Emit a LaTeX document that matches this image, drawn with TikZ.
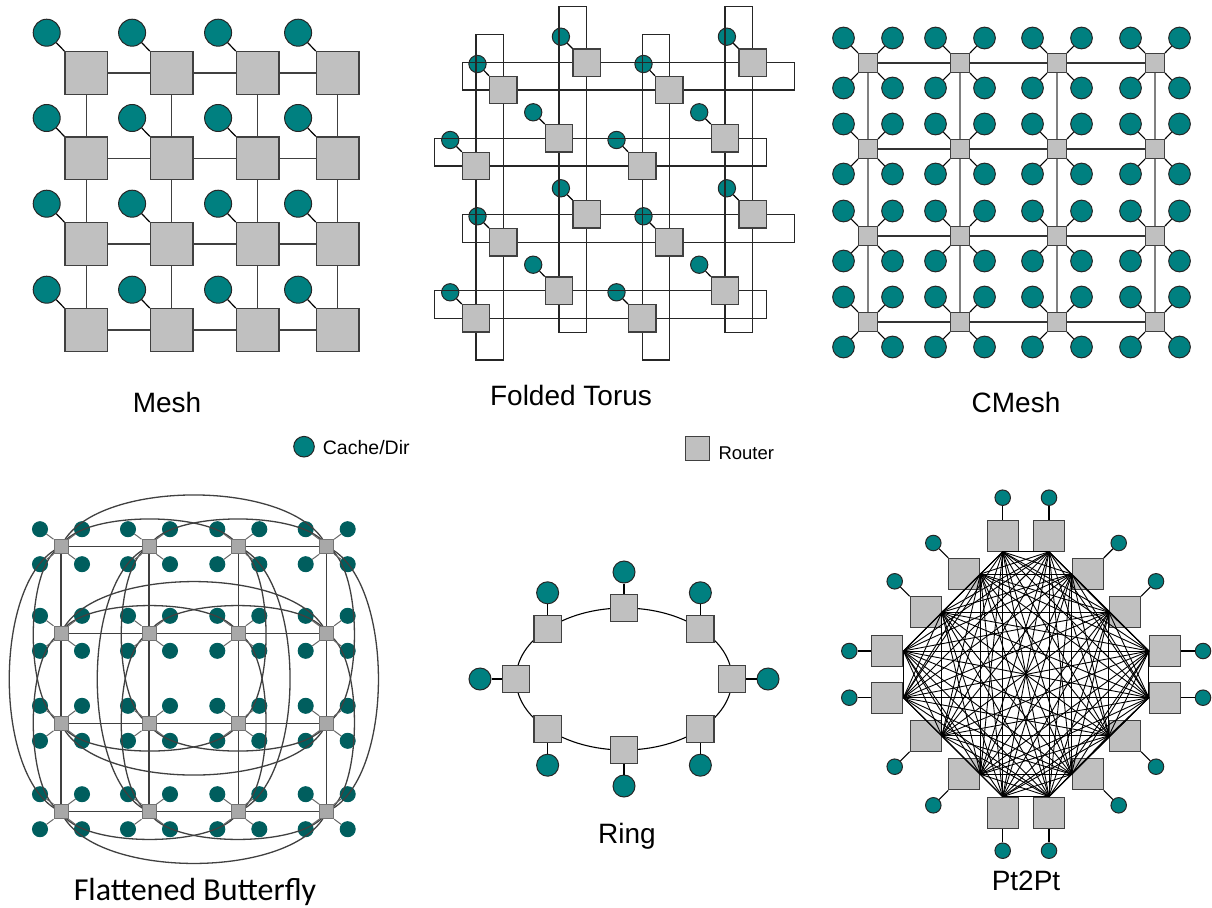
\documentclass[tikz,border=0pt]{standalone}
\usepackage{fontspec}
\setmainfont{Liberation Sans}
\newfontfamily\calibrifont{Carlito}
\definecolor{cachecol}{RGB}{0,128,128}
\definecolor{routercol}{RGB}{192,192,192}
\definecolor{fbcache}{RGB}{0,94,94}
\definecolor{fbrouter}{RGB}{168,168,168}
\definecolor{linkcol}{RGB}{64,64,64}
\pgfdeclarelayer{bottom}
\pgfdeclarelayer{links}
\pgfsetlayers{bottom,links,main}
\tikzset{
  cache/.style={circle, draw=black!85, line width=1pt, fill=cachecol, minimum size=#1, inner sep=0pt},
  cache/.default=27,
  router/.style={rectangle, draw=black!75, line width=1.2pt, fill=routercol, minimum size=#1, inner sep=0pt},
  router/.default=42,
  link/.style={draw=linkcol, line width=1.4pt},
  fblink/.style={draw=black!75, line width=1.3pt},
  plink/.style={draw=black, line width=0.9pt},
  title/.style={font=\fontsize{28}{30}\selectfont, anchor=base, inner sep=0pt},
  keytext/.style={anchor=base west, inner sep=0pt},
}
\begin{document}
\begin{tikzpicture}[x=1pt,y=-1pt]
    \useasboundingbox (0,0) rectangle (1212,907);

    % --- Mesh (top left) ---
    \foreach \x [count=\i] in {86.3,171.7,257.7,337.7} {
        \foreach \y [count=\j] in {73,158.3,244,330} {
            \node[cache=27] (MC\i\j) at (\x-39.6,\y-40.3) {};
            \node[router=42.7] (M\i\j) at (\x,\y) {};
            \draw[line width=1.2pt] (MC\i\j) -- (M\i\j.north west);
        }
    }
    \foreach \i in {1,2,3} {
        \pgfmathtruncatemacro\k{\i+1}
        \foreach \j in {1,...,4} {
            \draw[link] (M\i\j) -- (M\k\j);
            \draw[link] (M\j\i) -- (M\j\k);
        }
    }
    \node[title] (mesh) at (167,412) {Mesh};

    % --- Folded Torus (top middle) ---
    \foreach \x/\y [count=\n] in {586.7/62.7, 752.7/62.7, 503.3/90, 669.3/90,
        559/138.3, 725/138.3, 476/166, 642.3/166, 586.7/214.3, 752.7/214.3,
        503.3/242.3, 669.3/242.3, 559/290.7, 725/290.7, 476/318.3, 642.3/318.3} {
        \begin{pgfonlayer}{bottom}
            \node[cache=17.3] (TC\n) at (\x-25.8,\y-26) {};
        \end{pgfonlayer}
        \node[router=27.3] (T\n) at (\x,\y) {};
        \draw[line width=1.2pt] (TC\n) -- (T\n.north west);
    }
    % wrap-around loops
    \begin{pgfonlayer}{links}
        \foreach \xa/\ya/\xb/\yb in {462.3/62.7/794.3/90, 434.3/138.3/766.7/166,
            462.3/214.3/794.3/242.3, 434.3/290.7/766.7/318.3,
            559/6.7/586.7/332.3, 476/34.3/503.3/360,
            642.3/34.3/669.3/360, 725/6.7/752.7/332.3} {
            \draw[draw=black!85, line width=1.4pt] (\xa,\ya) rectangle (\xb,\yb);
        }
    \end{pgfonlayer}
    \node[title] (torus) at (571,405) {Folded Torus};

    % --- CMesh (top right) ---
    \foreach \x [count=\i] in {868,960,1057,1155} {
        \foreach \y [count=\j] in {63,149,236,322} {
            \node[router=19] (C\i\j) at (\x,\y) {};
            \foreach \dx/\dy/\an [count=\k] in {-24.5/-25/north west, 24.5/-25/north east,
                -24.5/25/south west, 24.5/25/south east} {
                \node[cache=21.7] (CC\i\j\k) at (\x+\dx,\y+\dy) {};
                \draw[line width=1.1pt] (CC\i\j\k) -- (C\i\j.\an);
            }
        }
    }
    \foreach \i in {1,2,3} {
        \pgfmathtruncatemacro\k{\i+1}
        \foreach \j in {1,...,4} {
            \draw[draw=black!80, line width=1.1pt] (C\i\j) -- (C\k\j);
            \draw[draw=black!50, line width=1.3pt] (C\j\i) -- (C\j\k);
        }
    }
    \node[title] (cmesh) at (1016,412) {CMesh};

    % --- Legend ---
    \node[cache=20.6] (keycache) at (304,446.7) {};
    \node[keytext, font=\fontsize{19.5}{21}\selectfont] (keycachetext) at (322.7,454.3) {Cache/Dir};
    \node[router=24] (keyrouter) at (697.3,448.3) {};
    \node[keytext, font=\fontsize{18.5}{20}\selectfont] (keyroutertext) at (718.3,459) {Router};

    % --- Flattened Butterfly (bottom left) ---
    \foreach \x [count=\i] in {61,149,238.3,326.7} {
        \foreach \y [count=\j] in {546.7,633.3,723.3,811.7} {
            \node[router=14, fill=fbrouter, draw=black!55, line width=1pt] (F\i\j) at (\x,\y) {};
            \foreach \dx/\dy/\an [count=\k] in {-21/-17.5/north west, 21/-17.5/north east,
                -21/17.5/south west, 21/17.5/south east} {
                \begin{pgfonlayer}{bottom}
                    \node[cache=15, fill=fbcache, draw=fbcache] (FC\i\j\k) at (\x+\dx,\y+\dy) {};
                \end{pgfonlayer}
                \draw[draw=black!60, line width=1pt] (FC\i\j\k) -- (F\i\j.\an);
            }
        }
    }
    \begin{pgfonlayer}{links}
        \foreach \i in {1,2,3} {
            \pgfmathtruncatemacro\k{\i+1}
            \foreach \j in {1,...,4} {
                \draw[fblink] (F\i\j.center) -- (F\k\j.center);
                \draw[fblink] (F\j\i.center) -- (F\j\k.center);
            }
        }
        % rows: arcs above for the upper two, below for the lower two
        \foreach \j/\d in {1/-1,2/-1,3/1,4/1} {
            \draw[fblink] (F1\j.center) .. controls +(30,\d*69) and +(-30,\d*69) .. (F4\j.center);
            \draw[fblink] (F1\j.center) .. controls +(18,\d*37) and +(-18,\d*37) .. (F3\j.center);
            \draw[fblink] (F2\j.center) .. controls +(18,\d*37) and +(-18,\d*37) .. (F4\j.center);
        }
        % columns: arcs left for the two left ones, right for the others
        \foreach \i/\e in {1/-1,2/-1,3/1,4/1} {
            \draw[fblink] (F\i1.center) .. controls +(\e*69,30) and +(\e*69,-30) .. (F\i4.center);
            \draw[fblink] (F\i1.center) .. controls +(\e*37,18) and +(\e*37,-18) .. (F\i3.center);
            \draw[fblink] (F\i2.center) .. controls +(\e*37,18) and +(\e*37,-18) .. (F\i4.center);
        }
    \end{pgfonlayer}
    \node[title, font=\calibrifont\fontsize{32}{35}\selectfont] (fbutterfly) at (195,900) {Flattened Butterfly};

    % --- Ring (bottom middle) ---
    \draw[line width=1.1pt] (624,679) ellipse [x radius=108, y radius=71];
    \foreach \a/\dx/\dy [count=\n] in {0/36/0, 45/0/-36, 90/0/-36, 135/0/-36,
        180/-36/0, 225/0/36, 270/0/36, 315/0/36} {
        \node[router=27.3] (R\n) at ({624+108*cos(\a)},{679-71*sin(\a)}) {};
        \node[cache=22] (RC\n) at ([shift={(\dx,\dy)}]R\n.center) {};
        \draw[line width=1.4pt] (R\n) -- (RC\n);
    }
    \node[title] (ring) at (627,843.3) {Ring};

    % --- Pt2Pt (bottom right) ---
    \foreach \x/\y/\an/\dx/\dy [count=\n] in {
        1002.7/535.7/south/0/-38, 1049/535.7/south/0/-38,
        1087.7/574/west/31/-31, 1125/612.3/west/31/-31,
        1165/651/west/38/0, 1165/697.7/west/38/0,
        1125/735.7/west/31/31, 1087.7/774.3/west/31/31,
        1049/812.7/north/0/38, 1002.7/812.7/north/0/38,
        964.3/774.3/east/-31/31, 925.7/735.7/east/-31/31,
        887.3/697.7/east/-38/0, 887.3/651/east/-38/0,
        925.7/612.3/east/-31/-31, 964.3/574/east/-31/-31} {
        \node[router=31] (P\n) at (\x,\y) {};
        \coordinate (PA\n) at (P\n.\an);
        \node[cache=15.5] (PC\n) at (\x+\dx,\y+\dy) {};
        \draw[line width=1.1pt] (PC\n) -- (P\n);
    }
    % every router to every other router
    \foreach \a in {1,...,16} {
        \foreach \b in {1,...,16} {
            \ifnum\a<\b \draw[plink] (PA\a) -- (PA\b); \fi
        }
    }
    \node[title] (pt2pt) at (1026,890) {Pt2Pt};

\end{tikzpicture}
\end{document}
